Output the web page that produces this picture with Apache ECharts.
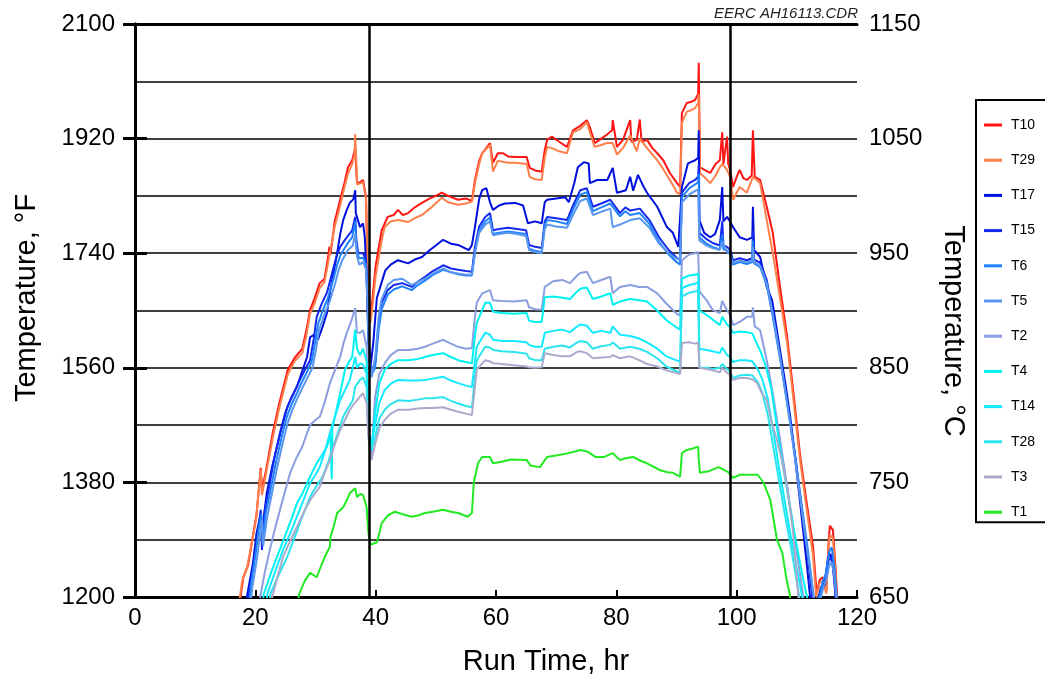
<!DOCTYPE html>
<html><head><meta charset="utf-8">
<script src="https://cdn.jsdelivr.net/npm/echarts@6/dist/echarts.min.js"></script>
<style>html,body{margin:0;padding:0;background:#fff}#c{width:1045px;height:683px}</style>
</head><body><div id="c"></div>
<script>
const seriesNames = ['T10','T29','T17','T15','T6','T5','T2','T4','T14','T28','T3','T1'];
const seriesColors = ['#ff1414','#ff7f4a','#0010dc','#1428ee','#1e82ff','#5a96ee','#8a9ee0','#00f2f2','#12eaff','#2ae4ee','#aaaacc','#22ea22'];
const xTicks = [0,20,40,60,80,100,120];
const fTicks = [1200,1380,1560,1740,1920,2100];
const cTicks = [650,750,850,950,1050,1150];
const vLines = [39,99];

const t10 = [[17.4,1190],[18,1231],[18.8,1250],[19.5,1290],[20.2,1330],[20.9,1403],[21.1,1368],[21.8,1400],[22.9,1458],[24,1505],[25.4,1557],[26.5,1575],[27.8,1590],[28.5,1620],[29.1,1651],[29.8,1668],[30.7,1693],[31.5,1700],[32.1,1734],[32.3,1750],[32.5,1738],[33.2,1790],[34.1,1824],[34.8,1850],[35.4,1875],[36.1,1886],[36.6,1905],[36.9,1850],[37.5,1852],[37.9,1855],[38.4,1828],[38.7,1700],[39.1,1640],[39.4,1662],[40,1720],[41,1776],[42,1797],[43,1800],[43.7,1808],[44.5,1800],[45.4,1803],[46.5,1812],[47.7,1819],[49,1826],[50,1830],[51,1835],[52,1830],[53.7,1824],[55,1826],[56,1822],[56.5,1855],[57.2,1885],[57.7,1897],[59,1913],[59.5,1882],[60.3,1897],[61.2,1897],[62,1892],[63.2,1891],[65.1,1891],[65.6,1874],[66.5,1870],[67.6,1868],[68.1,1902],[68.5,1918],[69.3,1923],[70.5,1915],[71.8,1907],[72.8,1933],[74,1940],[75.1,1949],[75.6,1938],[76.4,1913],[77.5,1920],[78.4,1926],[79.3,1933],[79.4,1949],[80.1,1907],[81.1,1918],[82.3,1949],[82.5,1915],[83.4,1918],[83.9,1950],[84.2,1915],[85.1,1918],[86,1905],[86.8,1897],[87.8,1886],[88.9,1866],[89.5,1858],[90.1,1850],[90.6,1844],[90.9,1960],[91.7,1976],[92.5,1978],[93.1,1981],[93.6,1990],[93.7,2039],[93.9,1875],[94.8,1870],[95.6,1866],[96.5,1880],[97.2,1886],[97.6,1930],[97.8,1880],[98.4,1923],[98.6,1880],[98.9,1871],[99.4,1844],[100,1860],[100.5,1871],[101.1,1858],[101.7,1855],[102.5,1862],[102.7,1933],[103,1860],[103.9,1855],[105,1813],[106,1772],[107.2,1687],[108.4,1608],[109.5,1515],[110.5,1426],[111.6,1350],[112.7,1279],[113.3,1206],[113.8,1227],[114.3,1231],[114.9,1210],[115.3,1290],[115.5,1312],[116,1305],[116.4,1250],[116.7,1200],[116.8,1185]];
const t29 = [[17.3,1190],[17.8,1225],[18.6,1245],[19.4,1285],[20.1,1320],[20.9,1400],[21.1,1360],[21.8,1395],[22.9,1450],[24,1498],[25.4,1550],[26.5,1570],[27.8,1583],[28.5,1612],[29.1,1645],[29.8,1660],[30.7,1685],[31.5,1695],[32.1,1725],[33.2,1782],[34.1,1815],[34.8,1843],[35.4,1865],[36.1,1880],[36.5,1895],[36.6,1927],[36.8,1880],[36.9,1848],[37.5,1850],[37.9,1852],[38.4,1825],[38.7,1690],[39.1,1630],[39.4,1650],[40,1705],[41,1760],[41.5,1781],[42.5,1790],[43.7,1792],[45.4,1789],[46.5,1795],[47.7,1800],[49,1810],[51,1827],[52,1820],[53.7,1816],[55,1818],[56,1821],[56.5,1850],[57.2,1880],[57.7,1897],[59,1910],[59.5,1868],[60.3,1885],[62,1882],[63.2,1882],[65.1,1880],[65.6,1860],[66.5,1856],[67.6,1855],[68.1,1890],[68.5,1907],[69.3,1905],[70.5,1900],[71.8,1897],[72.8,1930],[74,1935],[75.1,1946],[75.6,1930],[76.4,1907],[77.5,1910],[78.4,1913],[79.4,1913],[80.1,1895],[81.1,1905],[82.3,1925],[83.4,1900],[83.9,1920],[85.1,1905],[86,1895],[86.8,1886],[87.8,1872],[88.9,1855],[89.5,1845],[90.1,1835],[90.6,1833],[90.9,1945],[91.7,1962],[92.5,1965],[93.1,1968],[93.6,1976],[93.7,1990],[93.9,1866],[94.8,1858],[95.6,1850],[96.5,1862],[97.2,1875],[97.6,1880],[98.4,1871],[98.9,1860],[99.4,1824],[100,1835],[100.5,1844],[101.7,1835],[102.7,1860],[103.9,1850],[105,1792],[106,1740],[107.2,1670],[108.4,1598],[109.5,1505],[110.5,1418],[111.6,1340],[112.7,1265],[113.2,1200],[113.8,1222],[114.3,1226],[114.9,1205],[115.3,1280],[115.5,1298],[116,1292],[116.4,1240],[116.6,1195],[116.7,1185]];
const t17 = [[18.4,1190],[18.6,1200],[19.6,1253],[20.2,1300],[20.8,1326],[21.2,1310],[21.9,1363],[22.8,1405],[23.6,1436],[24.5,1470],[25.3,1498],[26.1,1515],[26.9,1530],[27.8,1555],[28.6,1577],[29.1,1608],[29.8,1612],[30.4,1604],[31.2,1625],[31.9,1646],[32.4,1678],[33,1710],[33.6,1740],[34.1,1770],[34.6,1792],[35.2,1808],[35.7,1819],[36.3,1825],[36.6,1839],[36.7,1803],[37.4,1781],[37.9,1787],[38.2,1765],[38.5,1698],[38.8,1600],[39.2,1565],[39.6,1599],[40.2,1670],[40.6,1682],[41.6,1713],[42.5,1722],[43.7,1729],[45.4,1724],[46.5,1730],[47.7,1734],[49,1745],[50,1752],[51.2,1761],[52.5,1755],[53.7,1753],[54.8,1748],[55.5,1745],[56,1753],[56.5,1781],[57.2,1825],[57.7,1839],[58.4,1842],[59,1820],[59.5,1808],[60.5,1815],[61.5,1818],[63.2,1819],[64.5,1815],[65.3,1787],[66.5,1790],[67.6,1787],[68.1,1820],[68.5,1824],[70,1826],[71.5,1828],[72.1,1820],[73,1850],[73.6,1875],[74.6,1883],[75.4,1881],[75.6,1850],[76.8,1855],[78.5,1855],[79.4,1874],[80.1,1835],[81.6,1839],[82.3,1860],[82.8,1838],[83.6,1863],[84.5,1845],[85.1,1835],[86.8,1813],[88.4,1781],[89.4,1772],[90.3,1750],[90.6,1748],[90.9,1844],[91.9,1881],[93.1,1886],[93.6,1890],[93.7,1933],[93.8,1792],[94.6,1772],[95.6,1765],[96.4,1770],[97.2,1792],[97.6,1844],[97.8,1790],[98.4,1797],[98.9,1790],[99.4,1781],[100.5,1765],[101.7,1761],[102.6,1765],[102.7,1813],[102.9,1745],[103.9,1734],[105,1687],[105.9,1666],[107.2,1588],[108.1,1535],[108.9,1483],[109.7,1420],[110.5,1352],[111.1,1300],[111.7,1247],[112.2,1200],[112.5,1185],[113.5,1195],[114,1215],[114.6,1222],[115.2,1262],[115.6,1268],[116,1250],[116.4,1205],[116.6,1185]];
const t15 = [[18.7,1190],[18.9,1205],[19.8,1260],[20.3,1294],[20.9,1337],[21.1,1274],[21.5,1330],[22.4,1379],[23.2,1420],[24.1,1458],[25,1490],[25.8,1509],[26.6,1525],[27.4,1541],[28.3,1558],[29.1,1572],[29.7,1605],[30.2,1640],[31,1660],[31.9,1678],[32.9,1714],[33.5,1735],[34.1,1750],[35.2,1765],[36.1,1776],[36.6,1797],[36.8,1760],[37.1,1740],[37.9,1740],[38.4,1729],[38.6,1687],[38.9,1590],[39.3,1555],[39.9,1567],[40.5,1630],[41,1662],[42,1682],[43,1690],[44.4,1693],[46,1687],[47,1695],[48.2,1703],[49.5,1712],[51.2,1721],[52.5,1716],[53.7,1714],[55,1712],[56,1711],[56.5,1750],[57.2,1782],[58.2,1797],[59,1803],[59.5,1776],[60.5,1778],[62,1780],[63.5,1778],[65,1776],[65.5,1753],[66.5,1750],[67.6,1748],[68.1,1790],[68.5,1797],[70,1795],[71.8,1792],[72.8,1815],[74,1839],[75.1,1842],[76.1,1813],[77.5,1818],[79,1824],[80.6,1803],[81.5,1812],[82.3,1807],[83.9,1810],[85.5,1792],[87.1,1765],[88.7,1745],[89.9,1734],[90.6,1729],[90.9,1835],[92.1,1850],[93.1,1855],[93.6,1860],[93.7,1880],[93.8,1772],[95,1762],[96,1756],[97.2,1752],[97.6,1790],[97.8,1752],[98.4,1750],[98.9,1745],[99.4,1729],[100.5,1732],[101.7,1729],[102.6,1732],[102.7,1775],[102.9,1730],[103.9,1725],[105,1698],[106,1646],[107.2,1580],[108.1,1525],[109,1470],[109.9,1410],[110.8,1340],[111.5,1285],[112.1,1240],[112.6,1195],[113.6,1195],[114.1,1212],[114.7,1220],[115.3,1258],[115.7,1262],[116.1,1240],[116.5,1200],[116.7,1185]];
const t6 = [[19,1190],[19.3,1220],[20.1,1270],[20.6,1310],[21,1330],[21.2,1285],[21.7,1330],[22.6,1372],[23.4,1410],[24.3,1448],[25.2,1482],[26,1502],[26.8,1518],[27.6,1535],[28.5,1552],[29.3,1568],[29.9,1598],[30.4,1628],[31.2,1650],[32,1668],[33,1700],[33.6,1722],[34.2,1738],[35.3,1755],[36.1,1765],[36.6,1790],[36.8,1750],[37.2,1732],[37.9,1733],[38.4,1722],[38.6,1680],[38.9,1580],[39.3,1548],[39.9,1560],[40.5,1620],[41,1652],[42,1675],[43,1683],[44.4,1688],[46,1682],[47,1690],[48.2,1697],[49.5,1706],[51.2,1714],[52.5,1710],[53.7,1707],[55,1705],[56,1705],[56.5,1742],[57.2,1776],[58.2,1790],[59,1796],[59.5,1770],[60.5,1772],[62,1774],[63.5,1772],[65,1770],[65.5,1747],[66.5,1744],[67.6,1742],[68.1,1785],[68.5,1792],[70,1790],[71.8,1786],[72.8,1808],[74,1832],[75.1,1836],[76.1,1806],[77.5,1812],[79,1818],[80.6,1798],[81.5,1806],[82.3,1800],[83.9,1803],[85.5,1786],[87.1,1758],[88.7,1738],[89.9,1727],[90.6,1722],[90.9,1828],[92.1,1842],[93.1,1848],[93.6,1852],[93.7,1865],[93.8,1765],[95,1755],[96,1750],[97.2,1746],[97.6,1770],[97.8,1746],[98.4,1744],[98.9,1740],[99.4,1722],[100.5,1726],[101.7,1723],[102.6,1726],[102.7,1760],[102.9,1724],[103.9,1718],[105,1690],[106,1640],[107.2,1575],[108.1,1522],[109,1468],[109.9,1408],[110.8,1345],[111.6,1290],[112.3,1240],[112.8,1195],[113.8,1200],[114.3,1225],[114.8,1235],[115.4,1272],[115.8,1278],[116.2,1250],[116.6,1205],[116.8,1185]];
const t5 = [[19.2,1190],[19.5,1215],[20.3,1262],[20.8,1300],[21.1,1322],[21.3,1280],[21.9,1322],[22.8,1365],[23.6,1402],[24.5,1440],[25.4,1474],[26.2,1495],[27,1512],[27.8,1528],[28.7,1545],[29.5,1560],[30.1,1590],[30.6,1620],[31.4,1642],[32.2,1660],[33.2,1690],[33.8,1712],[34.4,1728],[35.4,1745],[36.2,1752],[36.6,1770],[36.9,1735],[37.3,1722],[37.9,1726],[38.4,1715],[38.6,1672],[38.9,1575],[39.3,1545],[39.9,1575],[40.5,1640],[41,1668],[42,1690],[43,1698],[44.4,1700],[46,1690],[47,1695],[48.2,1700],[49.5,1708],[51.2,1716],[52.5,1710],[53.7,1708],[55,1706],[56,1706],[56.5,1740],[57.2,1772],[58.2,1785],[59,1790],[59.5,1768],[60.5,1770],[62,1772],[63.5,1770],[65,1767],[65.5,1745],[66.5,1742],[67.6,1740],[68.1,1778],[68.5,1785],[70,1782],[71.8,1780],[72.8,1800],[74,1822],[75.1,1826],[76.1,1800],[77.5,1805],[79,1810],[79.4,1781],[80.6,1785],[82.3,1792],[83.9,1795],[85.5,1780],[87.1,1755],[88.7,1740],[89.9,1732],[90.6,1730],[90.9,1820],[92.1,1832],[93.1,1838],[93.6,1840],[93.8,1760],[95,1752],[96,1748],[97.2,1745],[97.6,1758],[98.4,1742],[98.9,1738],[99.4,1725],[100.5,1728],[101.7,1726],[102.6,1728],[102.7,1750],[102.9,1726],[103.9,1720],[105,1693],[106,1645],[107.2,1578],[108.1,1522],[109,1465],[109.9,1402],[110.8,1338],[111.6,1282],[112.4,1230],[112.9,1195],[113.9,1195],[114.4,1215],[114.9,1228],[115.4,1250],[115.8,1255],[116.2,1235],[116.6,1195],[116.7,1185]];
const t2 = [[20.6,1190],[20.8,1200],[21.6,1240],[22.4,1274],[23.2,1305],[24.1,1337],[25,1368],[25.8,1395],[26.8,1418],[27.8,1436],[28.5,1455],[29.1,1470],[30,1478],[30.7,1483],[31.5,1505],[32.4,1536],[33.3,1558],[34.1,1577],[34.7,1600],[35.2,1615],[36,1635],[36.6,1654],[36.9,1615],[37.4,1615],[37.9,1619],[38.5,1593],[38.8,1480],[39.3,1420],[39.9,1514],[40.6,1550],[41.5,1567],[42.5,1580],[43.7,1588],[45.5,1588],[47,1590],[48.2,1593],[49.5,1598],[51.2,1604],[52.5,1598],[53.7,1593],[55,1590],[56,1591],[56.5,1640],[56.8,1662],[57.7,1677],[59,1682],[59.5,1666],[61,1665],[63,1664],[65.1,1666],[65.5,1655],[66.5,1652],[67.6,1651],[68.1,1687],[69.5,1696],[71,1698],[72.3,1693],[73.5,1705],[74,1709],[75.1,1711],[76.1,1693],[77.5,1698],[79,1703],[79.4,1677],[80.6,1687],[82.3,1690],[83.8,1687],[85.1,1687],[86.8,1677],[88.3,1661],[89.9,1646],[90.6,1642],[90.9,1729],[92.1,1738],[93.1,1740],[93.6,1742],[93.8,1680],[95,1666],[96,1651],[97.2,1646],[97.6,1665],[98.4,1650],[98.8,1645],[99.4,1627],[100.5,1632],[101.7,1640],[102.6,1640],[102.7,1655],[103,1625],[103.9,1619],[105,1572],[106,1520],[107,1460],[108,1398],[109,1335],[110,1270],[110.9,1212],[111.3,1185]];
const t4 = [[21.2,1190],[21.4,1205],[22.5,1235],[23.6,1263],[24.5,1285],[25.3,1305],[26.1,1325],[26.9,1347],[27.8,1362],[28.6,1379],[29.4,1395],[30.2,1410],[31,1422],[31.9,1436],[32.5,1455],[32.7,1385],[32.8,1465],[33.5,1495],[34.1,1520],[34.9,1557],[35.6,1570],[36.1,1577],[36.6,1620],[36.9,1590],[37.4,1580],[37.9,1590],[38.5,1570],[38.8,1470],[39.3,1430],[39.9,1489],[40.6,1535],[41.5,1557],[42.5,1566],[43.7,1572],[45.5,1572],[47,1574],[48.2,1577],[49.5,1580],[51.2,1583],[52.5,1577],[53.7,1572],[55,1569],[56,1567],[56.5,1610],[56.8,1630],[58.2,1662],[59,1662],[59.5,1648],[61,1646],[63,1645],[65.1,1646],[65.5,1634],[66.5,1632],[67.6,1632],[68.1,1671],[69.5,1672],[71,1670],[72.3,1668],[73.5,1680],[74,1684],[75.1,1686],[76.1,1668],[77.5,1672],[79,1677],[79.4,1659],[80.6,1664],[82.3,1668],[83.8,1666],[85.1,1664],[86.8,1650],[88.3,1635],[89.9,1624],[90.6,1620],[90.9,1700],[92.1,1705],[93.1,1706],[93.6,1708],[93.8,1650],[95,1643],[96,1636],[97.2,1627],[97.6,1640],[98.4,1628],[98.8,1625],[99.4,1615],[100.5,1617],[101.7,1616],[102.6,1614],[103.3,1599],[104,1585],[104.9,1561],[105.8,1525],[106.8,1460],[107.8,1400],[108.8,1345],[109.8,1290],[110.8,1240],[111.8,1195],[112,1185]];
const t14 = [[21.8,1190],[22,1205],[23.3,1240],[24.6,1274],[25.8,1300],[26.9,1326],[28,1352],[29.1,1379],[30,1392],[30.7,1404],[31.6,1430],[32.4,1458],[33.3,1485],[34.1,1509],[35,1527],[35.7,1541],[36.6,1577],[36.9,1560],[37.4,1567],[37.9,1565],[38.5,1550],[38.8,1460],[39.3,1440],[39.9,1470],[40.6,1505],[41.5,1525],[42.5,1535],[43.7,1541],[45.5,1540],[47,1540],[48.2,1541],[49.5,1543],[51.2,1546],[52.5,1540],[53.7,1536],[55,1532],[56,1530],[56.5,1570],[56.8,1593],[58.2,1615],[59,1612],[59.5,1604],[61,1602],[63,1602],[65.1,1600],[65.5,1596],[66.5,1593],[67.6,1593],[68.1,1615],[69.5,1618],[71,1620],[72.3,1616],[73.5,1625],[74,1628],[75.1,1626],[76.1,1615],[77.5,1618],[79,1615],[79.4,1625],[80.6,1612],[82.3,1610],[83.8,1606],[85.1,1600],[86.8,1590],[88.3,1578],[89.9,1572],[90.6,1570],[90.9,1685],[92.1,1690],[93.1,1692],[93.6,1695],[93.8,1590],[95,1588],[96,1586],[97.2,1583],[97.6,1592],[98.4,1580],[98.8,1578],[99.4,1569],[100.5,1572],[101.7,1572],[102.6,1570],[103.5,1558],[104.3,1541],[105.2,1510],[106.1,1460],[107,1405],[108,1350],[109,1295],[110,1245],[111,1195],[111.2,1185]];
const t28 = [[22.3,1190],[22.5,1205],[23.9,1235],[25.3,1263],[26.4,1290],[27.4,1316],[28.3,1338],[29.1,1357],[30.2,1375],[31.2,1389],[32.1,1412],[32.9,1436],[33.8,1460],[34.6,1483],[35.4,1497],[36.2,1509],[36.6,1530],[36.9,1530],[37.4,1541],[37.9,1545],[38.5,1530],[38.8,1455],[39.3,1432],[39.9,1450],[40.6,1480],[41.5,1494],[42.5,1503],[43.7,1509],[45.5,1508],[47,1510],[48.2,1512],[49.5,1512],[51.2,1514],[52.5,1508],[53.7,1504],[55,1500],[56,1498],[56.5,1545],[56.8,1572],[58.2,1593],[59,1592],[59.5,1588],[61,1586],[63,1585],[65.1,1582],[65.5,1575],[66.5,1572],[67.6,1572],[68.1,1590],[69.5,1593],[71,1595],[72.3,1592],[73.5,1600],[74,1602],[75.1,1600],[76.1,1590],[77.5,1594],[79,1596],[79.4,1600],[80.6,1590],[82.3,1593],[83.8,1590],[85.1,1585],[86.8,1575],[88.3,1562],[89.9,1555],[90.6,1553],[90.9,1672],[92.1,1678],[93.1,1680],[93.6,1682],[93.8,1560],[95,1560],[96,1558],[97.2,1560],[97.6,1566],[98.4,1558],[98.8,1555],[99.4,1544],[100.5,1548],[101.7,1549],[102.6,1548],[103.5,1538],[104.3,1520],[105.2,1485],[106.1,1435],[107,1385],[108,1330],[109,1280],[109.8,1235],[110.5,1195],[110.7,1185]];
const t3 = [[22.6,1190],[22.8,1200],[23.7,1232],[24.6,1263],[25.8,1288],[26.9,1310],[28,1332],[29.1,1352],[30,1364],[30.7,1373],[31.5,1395],[32.4,1415],[33.2,1440],[34.1,1462],[35,1480],[35.7,1494],[36.3,1502],[36.9,1509],[37.4,1515],[37.9,1520],[38.5,1505],[38.8,1450],[39.3,1415],[39.9,1440],[40.6,1465],[41.5,1478],[42.5,1488],[43.7,1494],[45.5,1494],[47,1496],[48.2,1497],[49.5,1497],[51.2,1498],[52.5,1494],[53.7,1491],[55,1488],[56,1486],[56.5,1530],[56.8,1557],[58.2,1572],[59,1570],[59.5,1567],[61,1566],[63,1564],[65.1,1562],[65.5,1561],[66.5,1560],[67.6,1561],[68.1,1583],[69.5,1580],[71,1578],[72.3,1578],[73.5,1585],[74,1586],[75.1,1583],[76.1,1575],[77.5,1576],[79,1577],[79.4,1580],[80.6,1575],[82.3,1578],[83.8,1572],[85.1,1566],[86.8,1562],[88.3,1556],[89.9,1552],[90.6,1550],[90.9,1599],[92.1,1600],[93.1,1598],[93.6,1600],[93.8,1560],[95,1558],[96,1556],[97.2,1553],[97.6,1560],[98.4,1552],[98.8,1550],[99.4,1541],[100.5,1544],[101.7,1544],[102.6,1542],[103.4,1536],[104.2,1520],[105,1509],[105.8,1475],[106.7,1447],[107.6,1410],[108.4,1373],[109.4,1300],[110.2,1206],[110.4,1185]];
const t1 = [[27,1190],[27.3,1205],[28.2,1225],[29.1,1238],[30.2,1231],[31.1,1253],[31.8,1268],[32.4,1279],[32.5,1295],[33,1310],[33.6,1332],[34.6,1341],[35.2,1352],[35.7,1363],[36.6,1371],[36.9,1357],[37.5,1362],[37.9,1360],[38.5,1341],[38.6,1326],[38.8,1300],[39.1,1282],[39.4,1282],[40.2,1286],[40.6,1300],[41,1316],[42,1328],[43.2,1334],[44.5,1330],[46,1326],[47,1328],[48.2,1332],[49.5,1334],[51.2,1337],[52.5,1334],[53.7,1332],[55.3,1326],[56,1332],[56.3,1379],[57,1410],[57.7,1420],[59,1420],[59.5,1410],[60.7,1412],[62.5,1416],[65.1,1415],[65.8,1406],[67.3,1404],[68.5,1420],[70.5,1423],[72,1426],[73.3,1429],[74,1431],[75.3,1428],[76.5,1420],[78,1420],[79.4,1426],[80.6,1415],[81.5,1418],[82.8,1420],[84,1414],[85.1,1410],[86.5,1403],[87.3,1399],[88.5,1396],[89.4,1395],[90.6,1389],[90.9,1426],[91.7,1431],[92.6,1433],[93.6,1436],[93.7,1415],[93.9,1395],[95.5,1398],[97,1404],[98.6,1396],[99.4,1387],[100.5,1392],[102,1392],[103.5,1392],[104.5,1379],[105.6,1352],[106.7,1290],[107.6,1269],[108.3,1227],[108.8,1206],[109,1190]];

const seriesData = [t10,t29,t17,t15,t6,t5,t2,t4,t14,t28,t3,t1];
const FONT = '"Liberation Sans", Arial, Helvetica, sans-serif';
const plain = v => String(v);

const chart = echarts.init(document.getElementById('c'), null, {renderer:'canvas'});
const series = seriesNames.map((n,i)=>({
  name:n, type:'line', data:seriesData[i], xAxisIndex:0, yAxisIndex:0,
  showSymbol:false, symbol:'none', color:seriesColors[i],
  lineStyle:{width:2, color:seriesColors[i]}, clip:true, z:3,
  emphasis:{disabled:true}
}));
series[0].markLine = {
  silent:true, symbol:['none','none'], label:{show:false},
  lineStyle:{color:'#000', width:2.5, type:'solid'},
  data: vLines.map(v=>({xAxis:v})), z:5
};

chart.setOption({
  animation:false,
  backgroundColor:'#fff',
  grid:{left:135, right:188, top:24, bottom:86, containLabel:false},
  xAxis:[{
    type:'value', min:xTicks[0], max:xTicks[xTicks.length-1], interval:20,
    axisLine:{show:true, lineStyle:{color:'#000', width:3}},
    axisTick:{show:true, inside:true, length:7, lineStyle:{color:'#000', width:2}},
    axisLabel:{color:'#000', fontSize:24, fontFamily:FONT, margin:9, formatter:plain},
    splitLine:{show:false}
  },{
    type:'value', position:'top', min:0, max:120,
    axisLine:{show:true, lineStyle:{color:'#000', width:3}},
    axisTick:{show:false}, axisLabel:{show:false}, splitLine:{show:false}
  }],
  yAxis:[{
    type:'value', position:'left', min:fTicks[0], max:fTicks[fTicks.length-1], interval:180,
    axisLine:{show:true, lineStyle:{color:'#000', width:3}},
    axisTick:{show:true, inside:true, length:12, lineStyle:{color:'#000', width:3}},
    axisLabel:{color:'#000', fontSize:24, fontFamily:FONT, margin:20, formatter:plain},
    splitLine:{show:true, lineStyle:{color:'#000', width:1.5}},
    minorTick:{show:false, splitNumber:2},
    minorSplitLine:{show:true, lineStyle:{color:'#000', width:1.5}}
  },{
    type:'value', position:'right', min:cTicks[0], max:cTicks[cTicks.length-1], interval:100,
    axisLine:{show:true, lineStyle:{color:'#000', width:3}},
    axisTick:{show:true, inside:true, length:12, lineStyle:{color:'#000', width:3}},
    axisLabel:{color:'#000', fontSize:24, fontFamily:FONT, margin:12, formatter:plain},
    splitLine:{show:false}
  }],
  legend:{
    orient:'vertical', left:976, top:100, data:seriesNames,
    icon:'rect', itemWidth:18, itemHeight:3, itemGap:19.2,
    padding:[17,25,2,8], borderColor:'#000', borderWidth:2,
    textStyle:{color:'#000', fontSize:14, fontFamily:FONT, lineHeight:16, padding:[0,0,0,4]},
    selectedMode:false
  },
  graphic:[{
    type:'text', right:187, top:6,
    style:{text:'EERC AH16113.CDR', fill:'#222', font:'italic 15px ' + FONT}
  },{
    type:'text', x:546, y:662,
    style:{text:'Run Time, hr', fill:'#000', font:'29px ' + FONT, align:'center', verticalAlign:'middle'}
  },{
    type:'text', x:27, y:298, rotation:Math.PI/2,
    style:{text:'Temperature, °F', fill:'#000', font:'29px ' + FONT, align:'center', verticalAlign:'middle'}
  },{
    type:'text', x:953, y:331, rotation:-Math.PI/2,
    style:{text:'Temperature, °C', fill:'#000', font:'29px ' + FONT, align:'center', verticalAlign:'middle'}
  }],
  series: series
});
</script></body></html>
